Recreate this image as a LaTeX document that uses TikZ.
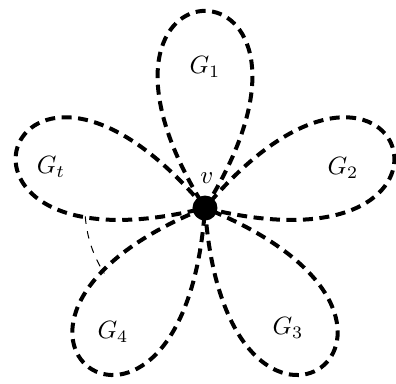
\documentclass[tikz,border=0pt]{standalone}
\usepackage{tikz}

\begin{document}
\begin{tikzpicture}[x=0.4pt, y=0.4pt,
    petal/.style={line width=1.6pt, dash pattern=on 4pt off 2.6pt},
    hub/.style={circle, fill=black, inner sep=0pt, minimum size=10pt}]
  \useasboundingbox (-205,-175) rectangle (191,208);
  \coordinate (v) at (0,0);

  % the five loops around v
  \foreach \a/\name/\lx/\ly in {90/1/0/141, 18/2/138/40, -54/3/83/-120, -126/4/-92/-124, 162/t/-154/41} {
    \pgfmathsetmacro{\lo}{\a-32}
    \pgfmathsetmacro{\hi}{\a+32}
    \draw[petal] (v) .. controls (\lo:310) and (\hi:310) .. (v);
    \node (G\name) at (\lx,\ly) {$G_\name$};
  }

  % more loops between G_t and G_4
  \coordinate (gapstart) at (184:120);
  \draw[thin, dashed] (gapstart) arc[start angle=184, end angle=213, radius=48pt];

  \node[hub] (vdot) at (v) {};
  \node (vlabel) at (2,30) {$v$};
\end{tikzpicture}
\end{document}
